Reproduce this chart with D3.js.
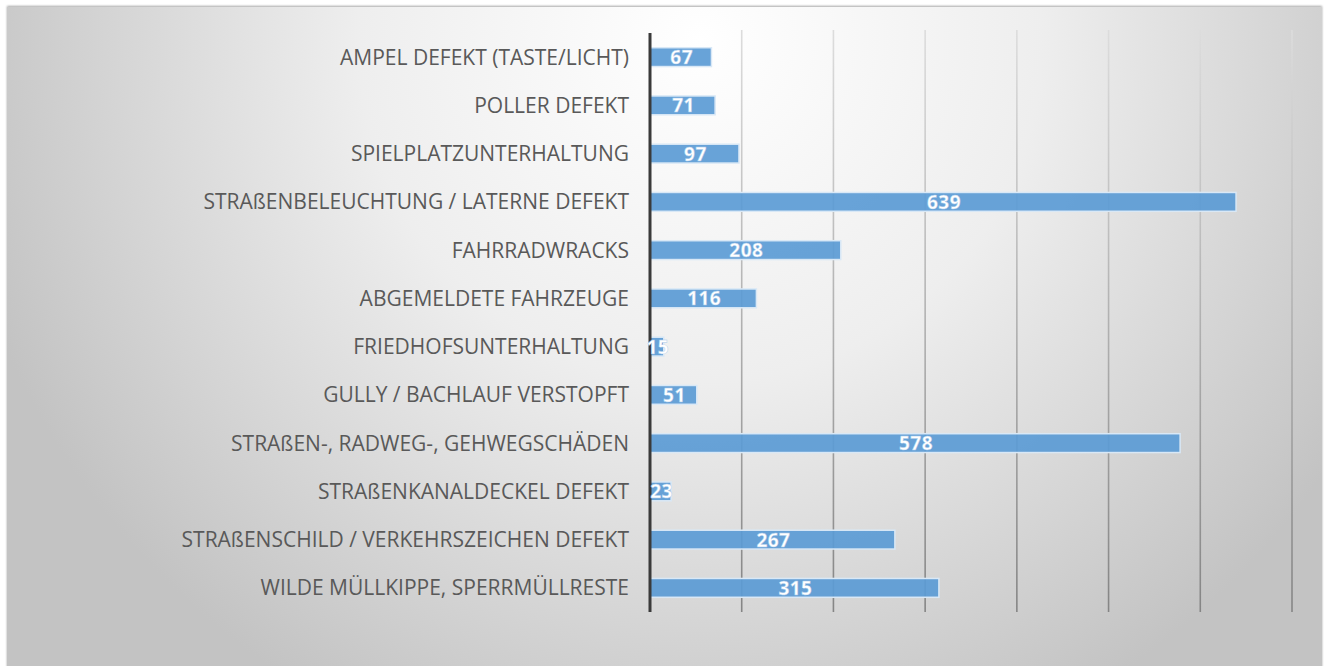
<!DOCTYPE html>
<html>
<head>
<meta charset="utf-8">
<script src="https://cdn.jsdelivr.net/npm/d3@7"></script>
<style>
    body { margin: 0; background: #ffffff; }
    svg { display: block; }
</style>
</head>
<body>
<div id="chart"></div>
<script>

var categories = [
    "AMPEL DEFEKT (TASTE/LICHT)",
    "POLLER DEFEKT",
    "SPIELPLATZUNTERHALTUNG",
    "STRAßENBELEUCHTUNG / LATERNE DEFEKT",
    "FAHRRADWRACKS",
    "ABGEMELDETE FAHRZEUGE",
    "FRIEDHOFSUNTERHALTUNG",
    "GULLY / BACHLAUF VERSTOPFT",
    "STRAßEN-, RADWEG-, GEHWEGSCHÄDEN",
    "STRAßENKANALDECKEL DEFEKT",
    "STRAßENSCHILD / VERKEHRSZEICHEN DEFEKT",
    "WILDE MÜLLKIPPE, SPERRMÜLLRESTE"
];
var values = [67, 71, 97, 639, 208, 116, 15, 51, 578, 23, 267, 315];
var xTicks = [0, 100, 200, 300, 400, 500, 600, 700];

var width = 1330, height = 666;
var margin = {top: 33, right: 38, bottom: 54, left: 650};

var svg = d3.select("#chart")
    .append("svg")
    .attr("width", width)
    .attr("height", height);

var defs = svg.append("defs");

// grey radial background like the excel chart area
var bg = defs.append("radialGradient")
    .attr("id", "bg")
    .attr("gradientUnits", "userSpaceOnUse")
    .attr("cx", 700).attr("cy", 40).attr("r", 760);
bg.append("stop").attr("offset", "0%").attr("stop-color", "#ffffff");
bg.append("stop").attr("offset", "45%").attr("stop-color", "#eeeeee");
bg.append("stop").attr("offset", "100%").attr("stop-color", "#c3c3c3");

var grid = defs.append("linearGradient")
    .attr("id", "grid")
    .attr("gradientUnits", "userSpaceOnUse")
    .attr("x1", 0).attr("y1", margin.top)
    .attr("x2", 0).attr("y2", height - margin.bottom);
grid.append("stop").attr("offset", "0%").attr("stop-color", "#dcdcdc");
grid.append("stop").attr("offset", "100%").attr("stop-color", "#858585");

var shadow = defs.append("filter").attr("id", "shadow")
    .attr("x", "-5%").attr("y", "-5%").attr("width", "110%").attr("height", "110%");
shadow.append("feDropShadow")
    .attr("dx", 0).attr("dy", -1).attr("stdDeviation", 1.2)
    .attr("flood-color", "#000").attr("flood-opacity", 0.35);

svg.append("rect")
    .attr("x", 7).attr("y", 7)
    .attr("width", 1315).attr("height", height)
    .attr("fill", "url(#bg)")
    .attr("filter", "url(#shadow)");

var x = d3.scaleLinear()
    .domain([0, 700])
    .range([margin.left, width - margin.right]);

var y = d3.scaleBand()
    .domain(categories)
    .range([margin.top, height - margin.bottom])
    .paddingInner(0.61)
    .paddingOuter(0.305);

// vertical gridlines
svg.append("g")
    .selectAll("line")
    .data(xTicks.slice(1))
    .enter()
    .append("line")
    .attr("x1", function(d) { return x(d); })
    .attr("x2", function(d) { return x(d); })
    .attr("y1", margin.top - 3)
    .attr("y2", height - margin.bottom)
    .attr("stroke", "url(#grid)")
    .attr("stroke-width", 1.6);

// category labels
svg.append("g")
    .selectAll("text")
    .data(categories)
    .enter()
    .append("text")
    .attr("x", margin.left - 21)
    .attr("y", function(d) { return y(d) + y.bandwidth() / 2; })
    .attr("dy", "0.36em")
    .attr("text-anchor", "end")
    .attr("font-family", "'Open Sans', sans-serif")
    .attr("font-size", "21px")
    .attr("fill", "#595959")
    .text(function(d) { return d; });

// bars
svg.append("g")
    .selectAll("rect")
    .data(values)
    .enter()
    .append("rect")
    .attr("x", x(0))
    .attr("y", function(d, i) { return y(categories[i]); })
    .attr("width", function(d) { return x(d) - x(0); })
    .attr("height", y.bandwidth())
    .attr("fill", "#5b9bd5")
    .attr("fill-opacity", 0.92)
    .attr("stroke", "#d9e8f6")
    .attr("stroke-width", 1.5);

// axis line
svg.append("line")
    .attr("x1", x(0)).attr("x2", x(0))
    .attr("y1", margin.top)
    .attr("y2", height - margin.bottom)
    .attr("stroke", "#3a3a3a")
    .attr("stroke-width", 3);

// value labels
svg.append("g")
    .selectAll("text")
    .data(values)
    .enter()
    .append("text")
    .attr("x", function(d) { return (x(0) + x(d)) / 2 + 1; })
    .attr("y", function(d, i) { return y(categories[i]) + y.bandwidth() / 2; })
    .attr("dy", "0.37em")
    .attr("text-anchor", "middle")
    .attr("font-family", "'Open Sans', sans-serif")
    .attr("font-weight", "bold")
    .attr("font-size", "19px")
    .attr("letter-spacing", "0.5px")
    .attr("fill", "#ffffff")
    .attr("stroke", "#a9c9ea")
    .attr("stroke-width", 0.4)
    .text(function(d) { return d; });

</script>
</body>
</html>
